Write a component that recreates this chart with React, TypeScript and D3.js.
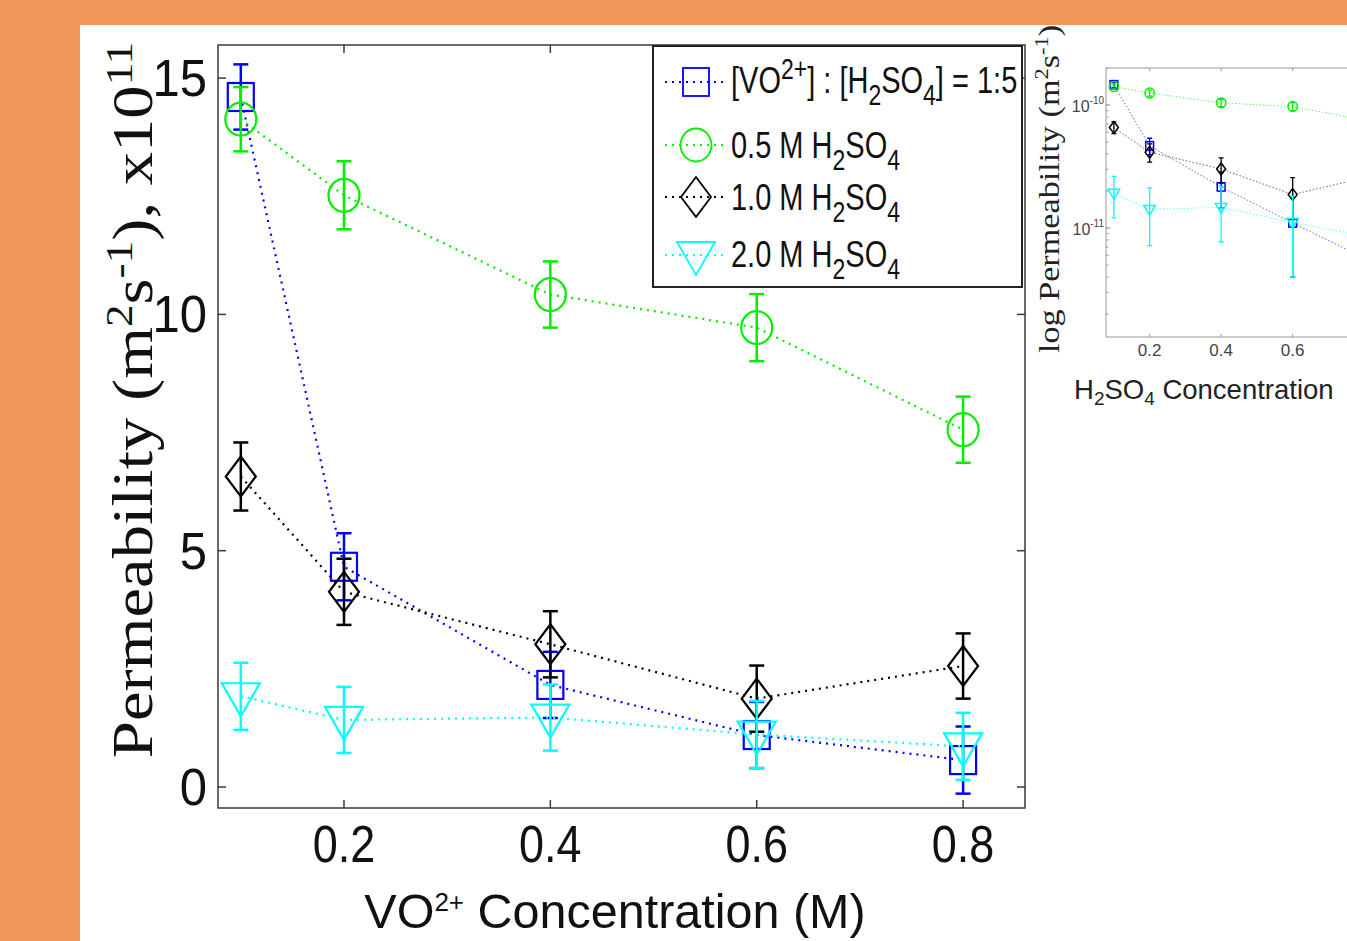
import React from 'react';
import * as d3 from 'd3';

// ---- data (permeability x 1e11, m^2 s^-1) ----
const X_VALUES = [0.1, 0.2, 0.4, 0.6, 0.8];
const RATIO_VALUES = [14.6, 4.66, 2.16, 1.1, 0.57];
const RATIO_ERRORS = [0.69, 0.71, 0.7, 0.7, 0.71];
const H05_VALUES = [14.13, 12.52, 10.42, 9.72, 7.56];
const H05_ERRORS = [0.68, 0.72, 0.7, 0.71, 0.7];
const H10_VALUES = [6.57, 4.13, 3.02, 1.87, 2.56];
const H10_ERRORS = [0.72, 0.7, 0.7, 0.7, 0.69];
const H20_VALUES = [1.92, 1.42, 1.47, 1.11, 0.86];
const H20_ERRORS = [0.71, 0.7, 0.7, 0.71, 0.71];

const X_TICKS = [0.2, 0.4, 0.6, 0.8];
const Y_TICKS = [0, 5, 10, 15];
const INSET_X_TICKS = [0.2, 0.4, 0.6];
const INSET_MAJOR = [1e-10, 1e-11];
const INSET_MAJOR_EXP = ['-10', '-11'];
const UNIT = 1e-11;

type Shape = 'square' | 'circle' | 'diamond' | 'triangle';
const SERIES: { values: number[]; errors: number[]; color: string; shape: Shape }[] = [
  { values: RATIO_VALUES, errors: RATIO_ERRORS, color: '#0000ff', shape: 'square' },
  { values: H05_VALUES, errors: H05_ERRORS, color: '#00ee00', shape: 'circle' },
  { values: H10_VALUES, errors: H10_ERRORS, color: '#000000', shape: 'diamond' },
  { values: H20_VALUES, errors: H20_ERRORS, color: '#00ffff', shape: 'triangle' },
];

const SANS = '"Liberation Sans", Arial, Helvetica, sans-serif';
const SERIF = '"Liberation Serif", "Times New Roman", serif';

function Marker({ shape, x, y, k, color, sw }: { shape: Shape; x: number; y: number; k: number; color: string; sw: number }) {
  const common = { fill: 'none', stroke: color, strokeWidth: sw };
  if (shape === 'square') return <rect x={x - 13 * k} y={y - 14 * k} width={26 * k} height={28 * k} {...common} />;
  if (shape === 'circle') return <ellipse cx={x} cy={y} rx={15.5 * k} ry={16.5 * k} {...common} />;
  if (shape === 'diamond')
    return <path d={`M${x},${y - 20 * k}L${x + 15 * k},${y}L${x},${y + 20 * k}L${x - 15 * k},${y}Z`} {...common} />;
  return <path d={`M${x - 19 * k},${y - 13 * k}L${x + 19 * k},${y - 13 * k}L${x},${y + 20 * k}Z`} {...common} />;
}

export default function App() {
  const W = 1347;
  const H = 941;

  // main axes
  const L = 218, R = 1025, T = 45, B = 808;
  const xS = d3.scaleLinear().domain([0.0779, 0.86]).range([L, R]);
  const yS = d3.scaleLinear().domain([-0.444, 15.7]).range([B, T]);

  // inset axes
  const iL = 1106, iT = 68, iB = 337;
  const ixS = d3.scaleLinear().domain([0.0779, 0.86]).range([iL, 1385.6]);
  const iyS = d3.scaleLog().domain([1.3e-12, 2e-10]).range([iB, iT]);
  const iR = ixS.range()[1];

  const mainLine = d3
    .line<number>()
    .x((_, i) => xS(X_VALUES[i]))
    .y((v) => yS(v));
  const insetLine = d3
    .line<number>()
    .x((_, i) => ixS(X_VALUES[i]))
    .y((v) => iyS(v * UNIT));

  const axisColor = '#3a3a3a';
  const tickLen = 8;

  const legendRows = [82, 145, 197, 255];
  const legendBase = [93, 158, 210, 267];
  const legendFont = 29;
  const subF = 23;

  const legendLabels = [
    <>
      <tspan>[VO</tspan>
      <tspan fontSize={subF} dy={-11}>2+</tspan>
      <tspan dy={11}>] : [H</tspan>
      <tspan fontSize={subF} dy={9}>2</tspan>
      <tspan dy={-9}>SO</tspan>
      <tspan fontSize={subF} dy={9}>4</tspan>
      <tspan dy={-9}>] = 1:5</tspan>
    </>,
    ...['0.5', '1.0', '2.0'].map((c) => (
      <>
        <tspan>{c} M H</tspan>
        <tspan fontSize={subF} dy={9}>2</tspan>
        <tspan dy={-9}>SO</tspan>
        <tspan fontSize={subF} dy={9}>4</tspan>
      </>
    )),
  ];

  const minorTicks = iyS.ticks();

  return (
    <svg width={W} height={H} style={{ position: 'absolute', left: 0, top: 0 }} xmlns="http://www.w3.org/2000/svg">
      <defs>
        <clipPath id="mainClip">
          <rect x={L} y={T} width={R - L} height={B - T} />
        </clipPath>
        <clipPath id="insetClip">
          <rect x={iL} y={iT} width={iR - iL} height={iB - iT} />
        </clipPath>
      </defs>
      <rect x={0} y={0} width={W} height={H} fill="#f0985c" />
      <rect x={80} y={25} width={W - 80} height={H - 25} fill="#ffffff" />

      {/* ===== main chart ===== */}
      <rect x={L} y={T} width={R - L} height={B - T} fill="#ffffff" stroke={axisColor} strokeWidth={1.5} />
      {X_TICKS.map((t) => (
        <g key={'xt' + t}>
          <line x1={xS(t)} x2={xS(t)} y1={B} y2={B - tickLen} stroke={axisColor} strokeWidth={1.5} />
          <line x1={xS(t)} x2={xS(t)} y1={T} y2={T + tickLen} stroke={axisColor} strokeWidth={1.5} />
          <text
            transform={`translate(${xS(t)},862) scale(1,1.15)`}
            textAnchor="middle"
            fontFamily={SANS}
            fontSize={45}
            fill="#111"
          >
            {t.toFixed(1)}
          </text>
        </g>
      ))}
      {Y_TICKS.map((t) => (
        <g key={'yt' + t}>
          <line x1={L} x2={L + tickLen} y1={yS(t)} y2={yS(t)} stroke={axisColor} strokeWidth={1.5} />
          <line x1={R} x2={R - tickLen} y1={yS(t)} y2={yS(t)} stroke={axisColor} strokeWidth={1.5} />
          <text
            transform={`translate(207,${yS(t) + 18}) scale(1,1.05)`}
            textAnchor="end"
            fontFamily={SANS}
            fontSize={49}
            fill="#111"
          >
            {t}
          </text>
        </g>
      ))}

      <g clipPath="url(#mainClip)">
        {SERIES.map((s, si) => (
          <g key={'s' + si}>
            <path d={mainLine(s.values) || ''} fill="none" stroke={s.color} strokeWidth={2.2} strokeDasharray="2 5" />
            {s.values.map((v, i) => {
              const cx = xS(X_VALUES[i]);
              const y1 = yS(v + s.errors[i]);
              const y2 = yS(v - s.errors[i]);
              return (
                <g key={i}>
                  <line x1={cx} x2={cx} y1={y1} y2={y2} stroke={s.color} strokeWidth={2.5} />
                  <line x1={cx - 7.5} x2={cx + 7.5} y1={y1} y2={y1} stroke={s.color} strokeWidth={2.5} />
                  <line x1={cx - 7.5} x2={cx + 7.5} y1={y2} y2={y2} stroke={s.color} strokeWidth={2.5} />
                  <Marker shape={s.shape} x={cx} y={yS(v)} k={1} color={s.color} sw={2.2} />
                </g>
              );
            })}
          </g>
        ))}
      </g>

      {/* legend */}
      <rect x={653} y={46} width={369} height={241} fill="#ffffff" stroke="#222" strokeWidth={2} />
      {SERIES.map((s, i) => (
        <g key={'lg' + i}>
          <line x1={665} x2={727} y1={legendRows[i]} y2={legendRows[i]} stroke={s.color} strokeWidth={2} strokeDasharray="2 5" />
          <Marker shape={s.shape} x={696} y={legendRows[i]} k={1} color={s.color} sw={1.8} />
          <text
            transform={`translate(731,${legendBase[i]}) scale(1,1.3)`}
            fontFamily={SANS}
            fontSize={legendFont}
            fill="#111"
          >
            {legendLabels[i]}
          </text>
        </g>
      ))}

      {/* axis titles */}
      <text x={615} y={928} textAnchor="middle" fontFamily={SANS} fontSize={48.5} fill="#111">
        <tspan>VO</tspan>
        <tspan fontSize={26} dy={-17}>2+</tspan>
        <tspan dy={17}> Concentration (M)</tspan>
      </text>
      <text
        transform="translate(152,400) rotate(-90) scale(1.19,1)"
        textAnchor="middle"
        fontFamily={SERIF}
        fontSize={56}
        fill="#111"
      >
        <tspan>Permeability (m</tspan>
        <tspan fontSize={38} dy={-20}>2</tspan>
        <tspan dy={20}>s</tspan>
        <tspan fontSize={38} dy={-20}>-1</tspan>
        <tspan dy={20}>), x10</tspan>
        <tspan fontSize={38} dy={-20}>11</tspan>
      </text>

      {/* ===== inset chart ===== */}
      <line x1={iL} x2={W} y1={iT} y2={iT} stroke="#999" strokeWidth={1} />
      <line x1={iL} x2={W} y1={iB} y2={iB} stroke="#999" strokeWidth={1} />
      <line x1={iL} x2={iL} y1={iT} y2={iB} stroke="#999" strokeWidth={1} />
      {INSET_X_TICKS.map((t) => (
        <g key={'ixt' + t}>
          <line x1={ixS(t)} x2={ixS(t)} y1={iB} y2={iB - 3} stroke="#999" />
          <line x1={ixS(t)} x2={ixS(t)} y1={iT} y2={iT + 3} stroke="#999" />
          <text x={ixS(t)} y={356} textAnchor="middle" fontFamily={SANS} fontSize={17} fill="#444">
            {t.toFixed(1)}
          </text>
        </g>
      ))}
      {minorTicks.map((t, i) => (
        <line key={'imt' + i} x1={iL} x2={iL + 2.5} y1={iyS(t)} y2={iyS(t)} stroke="#999" />
      ))}
      {INSET_MAJOR.map((t, i) => (
        <g key={'imj' + i}>
          <line x1={iL} x2={iL + 4.5} y1={iyS(t)} y2={iyS(t)} stroke="#999" />
          <text x={1104} y={iyS(t) + 7} textAnchor="end" fontFamily={SANS} fontSize={16} fill="#444">
            <tspan>10</tspan>
            <tspan fontSize={10} dy={-8}>{INSET_MAJOR_EXP[i]}</tspan>
          </text>
        </g>
      ))}
      <g clipPath="url(#insetClip)">
        {SERIES.map((s, si) => (
          <g key={'is' + si}>
            <path d={insetLine(s.values) || ''} fill="none" stroke={s.color} strokeOpacity={0.6} strokeWidth={1} strokeDasharray="1.5 2" />
            {s.values.map((v, i) => {
              const cx = ixS(X_VALUES[i]);
              const lo = Math.max((v - s.errors[i]) * UNIT, 1.3e-12);
              const y1 = iyS((v + s.errors[i]) * UNIT);
              const y2 = iyS(lo);
              return (
                <g key={i}>
                  <line x1={cx} x2={cx} y1={y1} y2={y2} stroke={s.color} strokeWidth={1.3} />
                  <line x1={cx - 2.5} x2={cx + 2.5} y1={y1} y2={y1} stroke={s.color} strokeWidth={1.3} />
                  <line x1={cx - 2.5} x2={cx + 2.5} y1={y2} y2={y2} stroke={s.color} strokeWidth={1.3} />
                  <Marker shape={s.shape} x={cx} y={iyS(v * UNIT)} k={0.3} color={s.color} sw={1.5} />
                </g>
              );
            })}
          </g>
        ))}
      </g>
      <text x={1074} y={399} fontFamily={SANS} fontSize={27.5} fill="#222">
        <tspan>H</tspan>
        <tspan fontSize={19} dy={6}>2</tspan>
        <tspan dy={-6}>SO</tspan>
        <tspan fontSize={19} dy={6}>4</tspan>
        <tspan dy={-6}> Concentration</tspan>
      </text>
      <text
        transform="translate(1059,189) rotate(-90) scale(1.18,1)"
        textAnchor="middle"
        fontFamily={SERIF}
        fontSize={29}
        fill="#222"
      >
        <tspan>log Permeability (m</tspan>
        <tspan fontSize={19} dy={-11}>2</tspan>
        <tspan dy={11}>s</tspan>
        <tspan fontSize={19} dy={-11}>-1</tspan>
        <tspan dy={11}>)</tspan>
      </text>
    </svg>
  );
}
